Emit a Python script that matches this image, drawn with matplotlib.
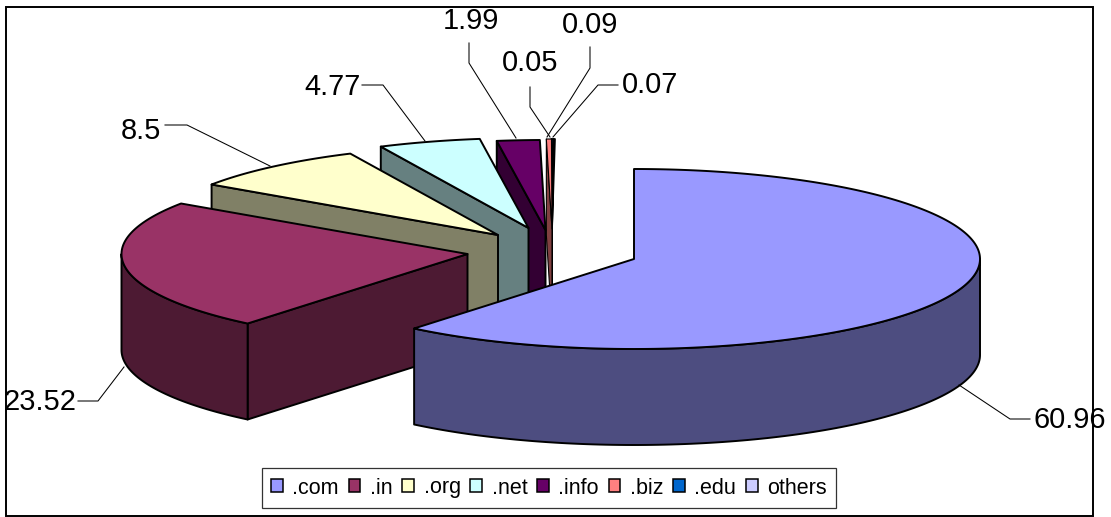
import numpy as np
import matplotlib
matplotlib.use("Agg")
import matplotlib.pyplot as plt
from matplotlib.patches import Polygon, Rectangle
from matplotlib.colors import to_rgb

plt.rcParams['font.family'] = ['Liberation Sans', 'DejaVu Sans']

# data
categories = ['.com', '.in', '.org', '.net', '.info', '.biz', '.edu', 'others']
values = [60.96, 23.52, 8.5, 4.77, 1.99, 0.05, 0.09, 0.07]
value_labels = ['60.96', '23.52', '8.5', '4.77', '1.99', '0.05', '0.09', '0.07']
colors = ['#9999FF', '#993366', '#FFFFCC', '#CCFFFF', '#660066', '#FF8080', '#0066CC', '#CCCCFF']

# layout (pixels of the figure)
W, H = 1111, 517
RX, RY, DEPTH = 346, 90, 96
apex = [(634, 259), (467.5, 254), (498, 235), (528.5, 228), (545.5, 230), (552, 229), (552, 229), (552, 229)]
min_sweep = [0, 0, 0, 0, 0, 0.85, 0, 0]
edge_lw = [1.4, 1.4, 1.4, 1.4, 1.4, 0.8, 1.3, 1.3]
label_pos = [(1070, 420), (40, 402), (141, 131), (333, 87), (471, 21), (530, 63), (590, 25), (650, 85)]
leaders = [
    [(959, 385), (1010, 419), (1030, 419)],
    [(124, 367), (98, 401), (78, 401)],
    [(270, 166), (187, 125), (165, 125)],
    [(425, 141), (383, 85), (362, 85)],
    [(516, 138), (469, 63), (469, 43)],
    [(550, 137), (530, 107), (530, 87)],
    [(547, 137), (590, 68), (590, 47)],
    [(553, 137), (598, 85), (618, 85)],
]

fig = plt.figure(figsize=(W / 100, H / 100), dpi=100)
ax = fig.add_axes([0, 0, 1, 1])
ax.set_xlim(0, W)
ax.set_ylim(H, 0)
ax.axis('off')

ax.add_patch(Rectangle((6, 7), 1087, 509, fc='white', ec='black', lw=1.4, zorder=0))


def point(c, t):
    r = np.radians(t)
    return np.column_stack([c[0] + RX * np.sin(r), c[1] - RY * np.cos(r)])


def darker(col):
    return tuple(v * 0.5 for v in to_rgb(col))


sweeps = [max(v * 3.6, m) for v, m in zip(values, min_sweep)]
starts = np.concatenate([[0], np.cumsum(sweeps)[:-1]])
for i in range(len(values) - 1, -1, -1):
    c, a, b, col = apex[i], starts[i], starts[i] + sweeps[i], colors[i]
    z = 2 + (len(values) - i) * 0.1
    kw = dict(ec='black', lw=edge_lw[i], joinstyle='round', zorder=z)
    if 180 < a < 360:
        p = point(c, np.array([a]))[0]
        ax.add_patch(Polygon([c, p, p + (0, DEPTH), (c[0], c[1] + DEPTH)], fc=darker(col), **kw))
    lo, hi = max(a, 90), min(b, 270)
    if hi > lo:
        arc = point(c, np.linspace(lo, hi, 120))
        ax.add_patch(Polygon(np.vstack([arc, arc[::-1] + (0, DEPTH)]), fc=darker(col), **kw))
    arc = point(c, np.linspace(a, b, max(int(sweeps[i] * 2), 8)))
    ax.add_patch(Polygon(np.vstack([[c], arc]), fc=col, **kw))

for txt, pos, line in zip(value_labels, label_pos, leaders):
    ax.text(pos[0], pos[1], txt, fontsize=20.9, ha='center', va='center', color='black', zorder=6)
    xs, ys = zip(*line)
    ax.plot(xs, ys, color='black', lw=0.75, zorder=5)

handles = [Rectangle((0, 0), 1, 1, fc=c, ec='black', lw=1.1) for c in colors]
leg = ax.legend(handles, categories, ncol=len(categories), loc='center',
                bbox_to_anchor=(549, 488), bbox_transform=ax.transData,
                fontsize=15.5, frameon=True, fancybox=False, edgecolor='#333333',
                framealpha=1, handlelength=0.55, handleheight=0.55, handletextpad=0.44,
                columnspacing=0.45, borderpad=0.42, borderaxespad=0)
leg.get_frame().set_linewidth(0.9)
leg.set_zorder(7)

fig.savefig('out.png', dpi=100)
